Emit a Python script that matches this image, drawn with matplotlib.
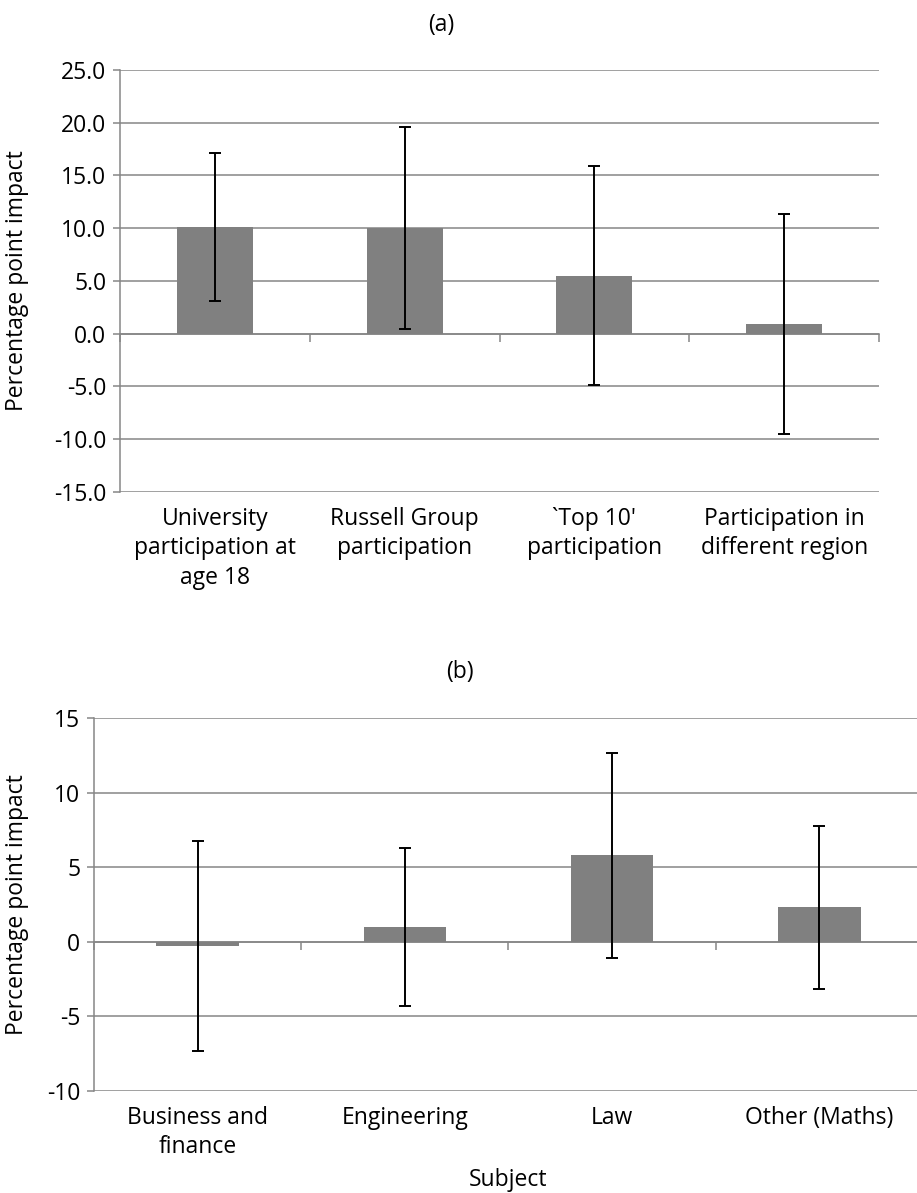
import matplotlib
matplotlib.use("Agg")
import matplotlib.pyplot as plt
import numpy as np

plt.rcParams['font.family'] = ['Open Sans', 'DejaVu Sans']

# panel (a): participation outcomes
cats_a = ['University\nparticipation at\nage 18', 'Russell Group\nparticipation',
          '`Top 10\'\nparticipation', 'Participation in\ndifferent region']
vals_a = [10.1, 10.0, 5.5, 0.9]
err_a = [7.0, 9.6, 10.4, 10.4]
yticks_a = [-15, -10, -5, 0, 5, 10, 15, 20, 25]

# panel (b): subject choice
cats_b = ['Business and\nfinance', 'Engineering', 'Law', 'Other (Maths)']
vals_b = [-0.3, 1.0, 5.8, 2.3]
err_b = [7.05, 5.3, 6.9, 5.5]
yticks_b = [-10, -5, 0, 5, 10, 15]

grid_col = '#868686'
bar_col = '#808080'
fs = 16.5

fig = plt.figure(figsize=(9.17, 11.93), dpi=100)


def draw_panel(ax, cats, vals, errs, yticks, fmt):
    x = np.arange(len(cats))
    ax.set_axisbelow(True)
    for t in yticks:
        ax.axhline(t, color=grid_col, lw=1.1, zorder=0)
    ax.bar(x, vals, width=0.4, color=bar_col, zorder=2)
    ax.errorbar(x, vals, yerr=errs, fmt='none', ecolor='black', elinewidth=1.4,
                capsize=4.5, capthick=1.4, zorder=3)
    ax.set_xlim(-0.5, len(cats) - 0.5)
    ax.set_ylim(yticks[0], yticks[-1])
    ax.set_yticks(yticks)
    ax.set_yticklabels([fmt.format(t) for t in yticks])
    ax.set_xticks(x)
    ax.set_xticklabels(cats, fontsize=fs, linespacing=1.3)
    ax.tick_params(axis='x', length=0, pad=11)
    ax.tick_params(axis='y', length=5, width=1.1, color=grid_col, labelsize=fs, pad=5)
    for s in ['top', 'right', 'bottom']:
        ax.spines[s].set_visible(False)
    ax.spines['left'].set_color(grid_col)
    ax.spines['left'].set_linewidth(1.1)
    # category axis drawn along the zero line, with boundary ticks
    sec = ax.secondary_xaxis(0, transform=ax.transData)
    sec.set_xticks(np.arange(len(cats) + 1) - 0.5)
    sec.set_xticklabels([])
    sec.tick_params(length=6, width=1.1, color=grid_col)
    sec.spines['bottom'].set_color(grid_col)
    sec.spines['bottom'].set_linewidth(1.1)
    ax.set_ylabel('Percentage point impact', fontsize=fs)


ax_a = fig.add_axes([0.1309, 0.5878, 0.8277, 0.3535])
draw_panel(ax_a, cats_a, vals_a, err_a, yticks_a, '{:.1f}')
ax_a.yaxis.set_label_coords(-0.12, 0.5)

ax_b = fig.add_axes([0.1028, 0.0859, 0.9034, 0.312])
draw_panel(ax_b, cats_b, vals_b, err_b, yticks_b, '{:d}')
ax_b.yaxis.set_label_coords(-0.079, 0.5)
ax_b.set_xlabel('Subject', fontsize=fs, labelpad=6)

fig.text(441.7 / 917, 1 - 25 / 1193, '(a)', ha='center', va='center', fontsize=fs)
fig.text(460 / 917, 1 - 671.7 / 1193, '(b)', ha='center', va='center', fontsize=fs)

fig.savefig('out.png', dpi=100)
